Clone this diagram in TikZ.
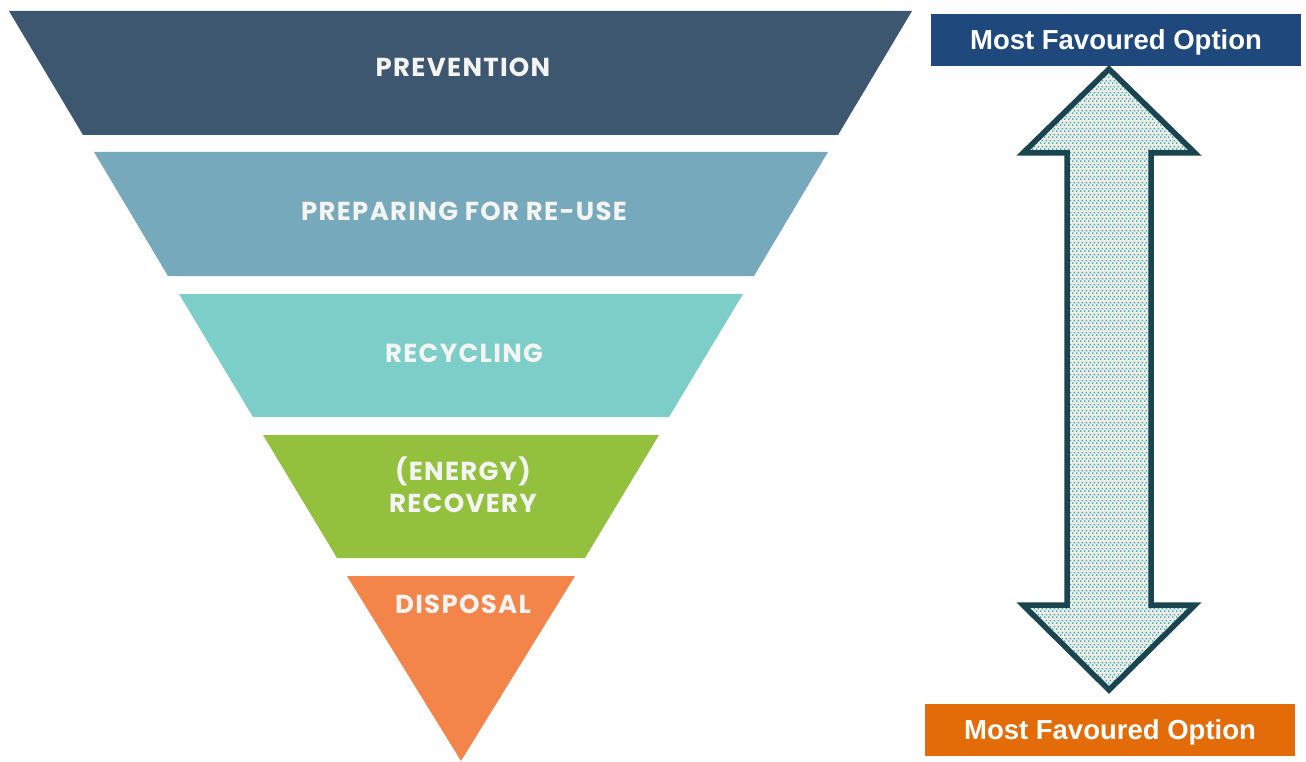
\documentclass[tikz,border=0pt]{standalone}
\usepackage{fontspec}
\setmainfont{Liberation Sans}
\newfontfamily\pop{Poppins}[LetterSpace=5]
\usetikzlibrary{patterns,patterns.meta}
\definecolor{cPrev}{HTML}{3E5770}
\definecolor{cPrep}{HTML}{76A9BC}
\definecolor{cRecy}{HTML}{7DCDC8}
\definecolor{cEner}{HTML}{93C13E}
\definecolor{cDisp}{HTML}{F4854A}
\definecolor{cTopBox}{HTML}{1F497D}
\definecolor{cBotBox}{HTML}{E36C09}
\definecolor{cArrowLine}{HTML}{1A4550}
\definecolor{cArrowBg}{HTML}{EFEDE4}
\definecolor{cArrowDot}{HTML}{3AABC0}
\definecolor{cBandText}{HTML}{F4F4F2}
\tikzdeclarepattern{
  name=tdots, type=uncolored,
  bottom left={(0pt,0pt)}, top right={(4pt,6pt)},
  tile size={(4pt,6pt)},
  code={\fill (0pt,0pt) rectangle (1.8pt,1.8pt);
        \fill (2pt,3pt) rectangle (3.8pt,4.8pt);}
}
\tikzset{
  bandtext/.style={text=cBandText,font=\pop\bfseries\fontsize{26}{32}\selectfont,align=center,inner sep=0pt},
  optbox/.style={minimum width=370pt,minimum height=52pt,inner sep=0pt,text depth=0pt,text=white,font=\bfseries\fontsize{27.5}{32}\selectfont},
}
\begin{document}
\begin{tikzpicture}[x=1pt,y=-1pt]
\useasboundingbox (0,0) rectangle (1306,762);
% pyramid bands
\fill[cPrev] (9,11) -- (912,11) -- (838,135) -- (83,135) -- cycle;
\fill[cPrep] (94,152) -- (828,152) -- (754,276) -- (168,276) -- cycle;
\fill[cRecy] (179,294) -- (743,294) -- (669,417) -- (253,417) -- cycle;
\fill[cEner] (263,435) -- (659,435) -- (585,558) -- (337,558) -- cycle;
\fill[cDisp] (347,576) -- (575,576) -- (461,761) -- cycle;
% labels
\node[bandtext] (prev) at (463,67) {PREVENTION};
\node[bandtext] (prep) at (464,211) {PREPARING FOR RE-USE};
\node[bandtext] (recy) at (464,353) {RECYCLING};
\node[bandtext] (ener) at (463,485) {(ENERGY)\\RECOVERY};
\node[bandtext] (disp) at (463,604) {DISPOSAL};
% option boxes
\node[optbox,fill=cTopBox] (top) at (1116,40) {Most Favoured Option};
\node[optbox,fill=cBotBox] (bot) at (1110,730) {Most Favoured Option};
% double arrow
\path[fill=cArrowBg] (1109,69) -- (1195,153) -- (1151,153) -- (1151,605) -- (1195,605) -- (1109,690) -- (1023,605) -- (1067,605) -- (1067,153) -- (1023,153) -- cycle;
\path[pattern=tdots,pattern color=cArrowDot] (1109,69) -- (1195,153) -- (1151,153) -- (1151,605) -- (1195,605) -- (1109,690) -- (1023,605) -- (1067,605) -- (1067,153) -- (1023,153) -- cycle;
\draw[cArrowLine,line width=5.5pt,line join=miter] (1109,69) -- (1195,153) -- (1151,153) -- (1151,605) -- (1195,605) -- (1109,690) -- (1023,605) -- (1067,605) -- (1067,153) -- (1023,153) -- cycle;
\end{tikzpicture}
\end{document}
